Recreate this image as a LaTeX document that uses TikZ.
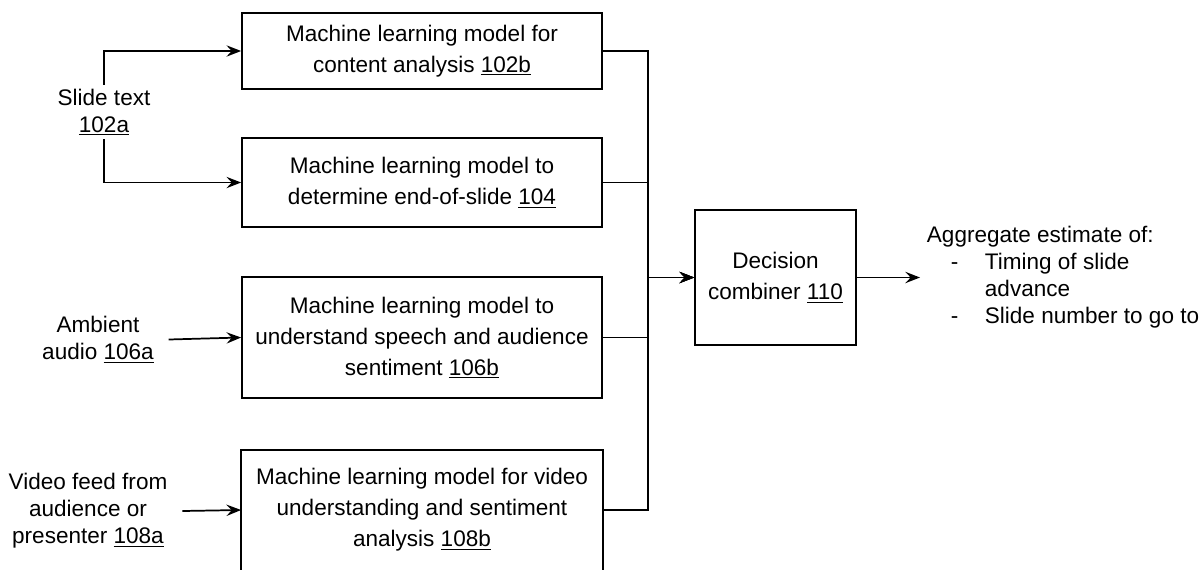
\documentclass[tikz,border=0pt]{standalone}
\usepackage{fontspec}
\setmainfont{Liberation Sans}
\usetikzlibrary{arrows.meta}

\tikzset{
  mlbox/.style={draw, line width=1.3pt, minimum width=270pt, inner sep=0pt, align=center,
    font=\fontsize{16.9}{23.3}\selectfont},
  intext/.style={align=center, inner xsep=11pt, inner ysep=3pt,
    font=\fontsize{16.9}{20.3}\selectfont},
  link/.style={line width=1.3pt, -{Stealth[length=11pt,width=8.5pt,inset=4pt]}},
}
\newcommand{\aggitem}[1]{\makebox[43.5pt][l]{\hspace*{18pt}#1}}

\begin{document}
\begin{tikzpicture}[x=0.75pt,y=0.75pt,yscale=-1,xscale=1]
        \useasboundingbox (0,0) rectangle (1202,569);

        %Shape: Rectangle [model boxes]
        \node [mlbox, minimum height=57pt] (m102b) at (422,51) {Machine learning model for\\content analysis \underline{102b}};
        \node [mlbox, minimum height=66.75pt] (m104) at (422,182.5) {Machine learning model to\\determine end-of-slide \underline{104}};
        \node [mlbox, minimum height=90.75pt] (m106b) at (422,337.5) {Machine learning model to\\understand speech and audience\\sentiment \underline{106b}};
        \node [mlbox, draw=none, minimum height=88.5pt] (m108b) at (422,510) {Machine learning model for video\\understanding and sentiment\\analysis \underline{108b}};
        % bottom edge of this box runs off the page
        \draw [line width=1.3pt] (m108b.south west) -- (m108b.north west) -- (m108b.north east) -- (m108b.south east) ;

        %Shape: Rectangle [combiner]
        \node [mlbox, minimum width=120.75pt, minimum height=101.25pt] (dc110) at (775.5,277.5) {Decision\\combiner \underline{110}};

        % Text Node
        \node [intext] (slide102a) at (104,112) {Slide text\\\underline{102a}};
        % Text Node
        \node [intext] (audio106a) at (98,339.5) {Ambient\\audio \underline{106a}};
        % Text Node
        \node [intext] (video108a) at (88,511) {Video feed from\\audience or\\presenter \underline{108a}};
        % Text Node
        \node [intext, align=left, anchor=west, inner xsep=5pt] (agg) at (920,277.5) {Aggregate estimate of:\\\aggitem{-}Timing of slide\\\aggitem{}advance\\\aggitem{-}Slide number to go to};

        %Straight Lines [inputs]
        \draw [link] (slide102a.north) |- (m102b.west) ;
        \draw [link] (slide102a.south) |- (m104.west) ;
        \draw [link] (audio106a.east) -- (m106b.west) ;
        \draw [link] (video108a.east) -- (m108b.west) ;

        %Straight Lines [to combiner]
        \coordinate (bus) at (648,277.5);
        \draw [link] (m102b.east) -| (bus) -- (dc110.west) ;
        \draw [link] (m104.east) -| (bus) -- (dc110.west) ;
        \draw [link] (m106b.east) -| (bus) -- (dc110.west) ;
        \draw [link] (m108b.east) -| (bus) -- (dc110.west) ;

        %Straight Lines [output]
        \draw [link] (dc110.east) -- (agg.west) ;

\end{tikzpicture}
\end{document}
